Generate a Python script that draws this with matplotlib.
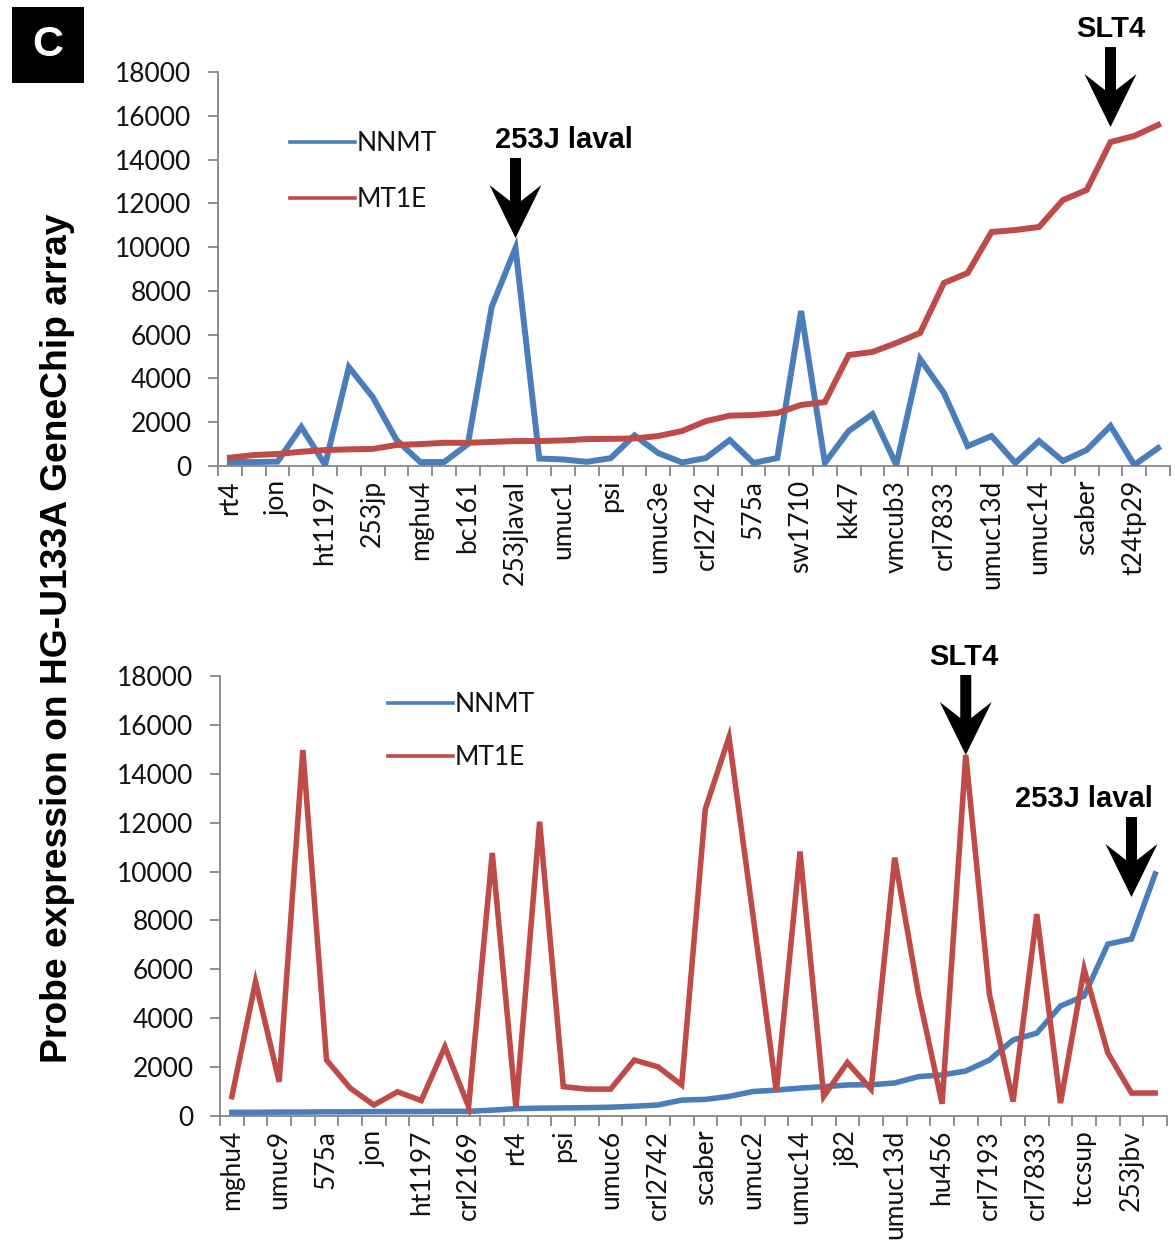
import matplotlib
matplotlib.use("Agg")
import matplotlib.pyplot as plt
import matplotlib.transforms as mtransforms
from matplotlib.patches import Polygon, Rectangle
from matplotlib.lines import Line2D
import numpy as np

# ---------------- data ----------------
top_labels = ['rt4', 'jon', 'ht1197', '253jp', 'mghu4', 'bc161', '253jlaval', 'umuc1',
              'psi', 'umuc3e', 'crl2742', '575a', 'sw1710', 'kk47', 'vmcub3', 'crl7833',
              'umuc13d', 'umuc14', 'scaber', 't24tp29']
top_nnmt = [180, 180, 200, 1780, 50, 4520, 3150, 1190, 180, 180,
            1000, 7270, 9960, 340, 300, 190, 360, 1400, 590, 160,
            365, 1190, 140, 365, 7080, 140, 1600, 2370, 50, 4890,
            3340, 910, 1370, 140, 1140, 230, 730, 1830, 50, 820]
top_mt1e = [380, 500, 550, 650, 730, 760, 780, 960, 1000, 1060,
            1060, 1100, 1140, 1140, 1170, 1230, 1240, 1260, 1370, 1600,
            2050, 2300, 2330, 2420, 2790, 2920, 5070, 5210, 5620, 6080,
            8360, 8820, 10690, 10780, 10920, 12150, 12610, 14800, 15080, 15580]

bot_labels = ['mghu4', 'umuc9', '575a', 'jon', 'ht1197', 'crl2169', 'rt4', 'psi',
              'umuc6', 'crl2742', 'scaber', 'umuc2', 'umuc14', 'j82', 'umuc13d', 'hu456',
              'crl7193', 'crl7833', 'tccsup', '253jbv']
bot_nnmt = [150, 150, 160, 160, 170, 170, 180, 180, 180, 190,
            190, 240, 300, 320, 330, 340, 360, 400, 450, 650,
            680, 800, 1000, 1060, 1140, 1200, 1270, 1280, 1350, 1610,
            1680, 1840, 2290, 3110, 3390, 4500, 4910, 7030, 7240, 9900]
bot_mt1e = [790, 5490, 1400, 14970, 2290, 1140, 450, 990, 630, 2830,
            380, 10760, 330, 12040, 1200, 1100, 1100, 2290, 2010, 1270,
            12560, 15500, 8300, 1000, 10820, 800, 2190, 1100, 10570, 5000,
            500, 14770, 4970, 590, 8260, 530, 6010, 2580, 940, 940]

series_names = ['NNMT', 'MT1E']
yticks = [0, 2000, 4000, 6000, 8000, 10000, 12000, 14000, 16000, 18000]

# ---------------- style ----------------
BLUE = '#4A7EBB'
RED = '#BE4B48'
AXC = '#868686'
TICKFONT = 'Lato'
BOLDFONT = 'Liberation Sans'

W, H = 1175, 1258
fig = plt.figure(figsize=(W / 100, H / 100), dpi=100)


def px_axes(left, top, right, bottom):
    return fig.add_axes([left / W, 1 - bottom / H, (right - left) / W, (bottom - top) / H])


def style_axes(ax, labels, n):
    ax.set_xlim(-0.5, n - 0.5)
    ax.set_ylim(0, 18000)
    for s in ['top', 'right']:
        ax.spines[s].set_visible(False)
    for s in ['left', 'bottom']:
        ax.spines[s].set_color(AXC)
        ax.spines[s].set_linewidth(1.3)
    ax.set_yticks(yticks)
    ax.set_yticklabels([str(v) for v in yticks], fontsize=19, family=TICKFONT, color='#111111')
    ax.tick_params(axis='y', direction='out', length=7, width=1.3, color=AXC, pad=12)
    ax.set_xticks(np.arange(0, n, 2))
    ax.set_xticklabels(labels, rotation=90, fontsize=19, family=TICKFONT, color='#111111')
    ax.tick_params(axis='x', which='major', length=0, pad=10)
    ax.set_xticks(np.arange(-0.5, n, 1.0), minor=True)
    ax.tick_params(axis='x', which='minor', direction='out', length=7, width=1.3, color=AXC)


def arrow(ax, xi, yv, dy_px, text, tdx_px):
    trans = fig.dpi_scale_trans + mtransforms.ScaledTranslation(xi, yv, ax.transData)
    verts_px = [(0, 0), (26, 53), (5.5, 37), (5.5, 80), (-5.5, 80), (-5.5, 37), (-26, 53)]
    verts = [(vx / 100, (vy + dy_px) / 100) for vx, vy in verts_px]
    poly = Polygon(verts, closed=True, transform=trans, facecolor='black',
                   edgecolor='none', clip_on=False)
    ax.add_artist(poly)
    ax.annotate(text, xy=(xi, yv), xytext=(tdx_px * 0.72, (dy_px + 98) * 0.72),
                textcoords='offset points', ha='center', va='center', fontsize=21,
                fontweight='bold', family=BOLDFONT, annotation_clip=False)


def legend(ax, x_px, yc_px, spacing):
    handles = [Line2D([], [], color=BLUE, lw=2.6), Line2D([], [], color=RED, lw=2.6)]
    leg = ax.legend(handles, series_names, loc='center left',
                    bbox_to_anchor=(x_px / W, 1 - yc_px / H), bbox_transform=fig.transFigure,
                    frameon=False, borderpad=0, borderaxespad=0, handlelength=2.46,
                    handletextpad=0.08, labelspacing=spacing,
                    prop={'family': TICKFONT, 'size': 19})
    for t in leg.get_texts():
        t.set_color('#111111')


# ---------------- top panel ----------------
ax1 = px_axes(218, 72, 1170, 466)
x1 = np.arange(len(top_nnmt))
ax1.plot(x1, top_nnmt, color=BLUE, lw=4.3, solid_joinstyle='miter', zorder=3)
ax1.plot(x1, top_mt1e, color=RED, lw=4.3, solid_joinstyle='miter', zorder=4)
style_axes(ax1, top_labels, len(top_nnmt))
legend(ax1, 290, 171.5, 1.17)
arrow(ax1, 12, top_nnmt[12], 10, '253J laval', 48)
arrow(ax1, 37, top_mt1e[37], 15, 'SLT4', 0)

# ---------------- bottom panel ----------------
ax2 = px_axes(220, 676, 1167, 1116)
x2 = np.arange(len(bot_nnmt))
ax2.plot(x2, bot_nnmt, color=BLUE, lw=4.0, solid_joinstyle='miter', zorder=3)
ax2.plot(x2, bot_mt1e, color=RED, lw=4.0, solid_joinstyle='miter', zorder=4)
style_axes(ax2, bot_labels, len(bot_nnmt))
legend(ax2, 388, 731, 1.05)
arrow(ax2, 31, bot_mt1e[31], 0, 'SLT4', -2)
arrow(ax2, 38, bot_nnmt[38], 42, '253J laval', -48)

# ---------------- figure texts ----------------
fig.text(58 / W, 1 - 638.5 / H, 'Probe expression on HG-U133A GeneChip array',
         rotation=90, ha='center', va='center', fontsize=26.8, fontweight='bold',
         family=BOLDFONT, color='black')

fig.patches.append(Rectangle((12 / W, 1 - 83 / H), 72 / W, 76 / H, transform=fig.transFigure,
                             facecolor='black', edgecolor='none', figure=fig))
fig.text(48 / W, 1 - 45 / H, 'C', ha='center', va='center', fontsize=31,
         fontweight='bold', family=BOLDFONT, color='white')

fig.savefig('out.png', dpi=100)
